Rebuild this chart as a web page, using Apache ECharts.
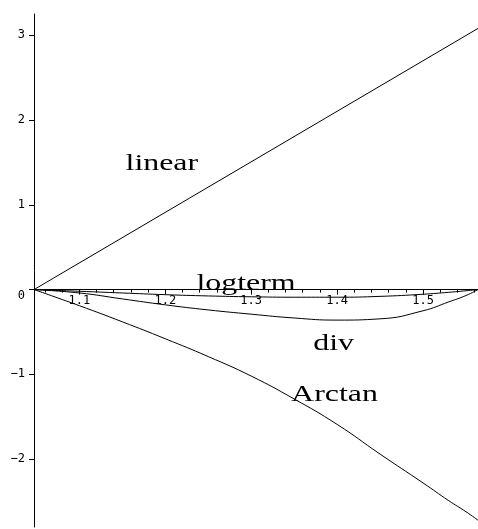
<!DOCTYPE html>
<html>
<head>
<meta charset="utf-8">
<script src="https://cdn.jsdelivr.net/npm/echarts@6/dist/echarts.min.js"></script>
<style>
  html, body { margin: 0; padding: 0; background: #fff; }
  #chart { width: 478px; height: 529px; }
</style>
</head>
<body>
<div id="chart"></div>
<script>
// Sample abscissas shared by the curved series
const xs = [1.0472, 1.1, 1.15, 1.2, 1.25, 1.3, 1.35, 1.4, 1.45, 1.5, 1.53, 1.55, 1.564];

// Curve values at xs
const arctanY  = [0, -0.19, -0.38, -0.58, -0.79, -1.02, -1.29, -1.59, -1.94, -2.28, -2.49, -2.62, -2.72];
const divY     = [0, -0.04, -0.11, -0.18, -0.24, -0.29, -0.335, -0.36, -0.345, -0.25, -0.145, -0.07, 0];
const logtermY = [0, -0.02, -0.04, -0.06, -0.075, -0.085, -0.09, -0.09, -0.08, -0.055, -0.032, -0.014, 0];

// The linear term is a straight segment
const linearX = [1.0472, 1.564];
const linearY = [0, 3.08];

// Axis extents and tick values
const xMin = 1.0472, xMax = 1.564;
const yMin = -2.8, yMax = 3.25;
const xMajorTicks = [1.1, 1.2, 1.3, 1.4, 1.5];
const yMajorTicks = [-2, -1, 0, 1, 2, 3];
const xMinorTicks = [1.06, 1.08, 1.12, 1.14, 1.16, 1.18, 1.22, 1.24, 1.26, 1.28,
                     1.32, 1.34, 1.36, 1.38, 1.42, 1.44, 1.46, 1.48, 1.52, 1.54, 1.56];
const yMinorTicks = [-2.6, -2.4, -2.2, -1.8, -1.6, -1.4, -1.2, -0.8, -0.6, -0.4, -0.2,
                     0.2, 0.4, 0.6, 0.8, 1.2, 1.4, 1.6, 1.8, 2.2, 2.4, 2.6, 2.8, 3.2];

// Curve names and the data-space anchors of their captions
const captionText = ['linear', 'logterm', 'div', 'Arctan'];
const captionX = [1.196, 1.294, 1.396, 1.397];
const captionY = [1.49, 0.07, -0.64, -1.24];

const pairs = (a, b) => a.map((v, i) => [v, b[i]]);

const chart = echarts.init(document.getElementById('chart'), null, { renderer: 'canvas' });

const ink = '#000';
const monoFont = 'DejaVu Sans Mono';

function minus(v) {
  return String(v).replace('-', '\u2212');
}

const option = {
  animation: false,
  backgroundColor: '#fff',
  grid: { left: 34, right: 0, top: 14, bottom: 2, containLabel: false, outerBoundsMode: 'none' },
  xAxis: [
    {
      type: 'value', min: xMin, max: xMax, position: 'bottom',
      axisLine: { show: true, onZero: false, lineStyle: { color: ink, width: 1 } },
      axisTick: { show: true, length: 5, customValues: xMajorTicks, lineStyle: { color: ink } },
      axisLabel: {
        show: true, customValues: xMajorTicks, margin: 5,
        fontFamily: monoFont, fontSize: 12, color: ink,
        formatter: v => v.toFixed(1)
      },
      splitLine: { show: false }
    },
    {
      type: 'value', min: xMin, max: xMax, position: 'bottom',
      axisLine: { show: false, onZero: false },
      axisTick: { show: true, length: 3, customValues: xMinorTicks, lineStyle: { color: ink } },
      axisLabel: { show: false },
      splitLine: { show: false }
    }
  ],
  yAxis: [
    {
      type: 'value', min: yMin, max: yMax,
      axisLine: { show: true, onZero: false, lineStyle: { color: ink, width: 1 } },
      axisTick: { show: true, length: 5, customValues: yMajorTicks, lineStyle: { color: ink } },
      axisLabel: {
        show: true, customValues: yMajorTicks, margin: 9,
        fontFamily: monoFont, fontSize: 12, color: ink,
        formatter: v => (v === 0 ? '{z|0}' : minus(v)),
        rich: { z: { fontFamily: monoFont, fontSize: 12, color: ink, padding: [12, 0, 0, 0] } }
      },
      splitLine: { show: false }
    },
    {
      type: 'value', min: yMin, max: yMax,
      axisLine: { show: false, onZero: false },
      axisTick: { show: true, length: 3, customValues: yMinorTicks, lineStyle: { color: ink } },
      axisLabel: { show: false },
      splitLine: { show: false }
    }
  ],
  series: [
    {
      name: 'linear', type: 'line', xAxisIndex: 0, yAxisIndex: 0,
      data: pairs(linearX, linearY), showSymbol: false, symbol: 'none',
      lineStyle: { color: ink, width: 1 }
    },
    {
      name: 'logterm', type: 'line', xAxisIndex: 0, yAxisIndex: 0,
      data: pairs(xs, logtermY), showSymbol: false, symbol: 'none',
      smooth: 0.5,
      lineStyle: { color: ink, width: 1 }
    },
    {
      name: 'div', type: 'line', xAxisIndex: 0, yAxisIndex: 0,
      data: pairs(xs, divY), showSymbol: false, symbol: 'none',
      smooth: 0.5,
      lineStyle: { color: ink, width: 1 }
    },
    {
      name: 'Arctan', type: 'line', xAxisIndex: 0, yAxisIndex: 0,
      data: pairs(xs, arctanY), showSymbol: false, symbol: 'none',
      smooth: 0.5,
      lineStyle: { color: ink, width: 1 }
    }
  ]
};

chart.setOption(option);

// Move the horizontal axes up so they cross the vertical axis at y = 0
const zeroPx = chart.convertToPixel({ yAxisIndex: 0 }, 0);
const basePx = chart.convertToPixel({ yAxisIndex: 0 }, yMin);
const shift = zeroPx - basePx;

// Curve captions, placed through the axes' own coordinate conversion
const captions = captionText.map((t, i) => {
  const p = chart.convertToPixel({ xAxisIndex: 0, yAxisIndex: 0 }, [captionX[i], captionY[i]]);
  return {
    type: 'text', x: p[0], y: p[1], scaleX: 1.33, z: 10,
    style: {
      text: t, fill: ink,
      font: '24px "Liberation Serif"',
      textAlign: 'center', textVerticalAlign: 'middle'
    }
  };
});

chart.setOption({
  xAxis: [{ offset: shift }, { offset: shift }],
  graphic: captions
});
</script>
</body>
</html>
